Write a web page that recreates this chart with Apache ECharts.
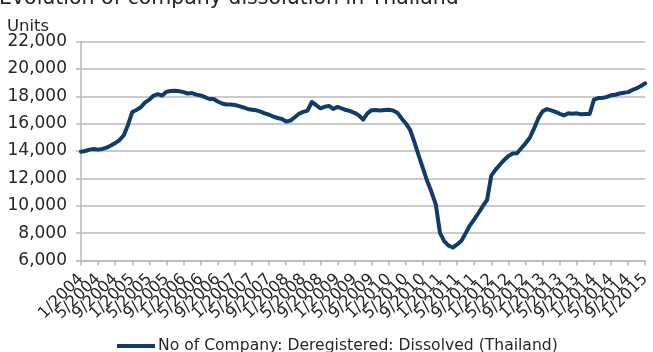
<!DOCTYPE html>
<html>
<head>
<meta charset="utf-8">
<script src="https://cdn.jsdelivr.net/npm/echarts@6/dist/echarts.min.js"></script>
<style>
  html, body { margin: 0; padding: 0; background: #fff; }
  #chart { width: 653px; height: 352px; }
</style>
</head>
<body>
<div id="chart"></div>
<script>
// Monthly series, January 2004 through January 2015
const startYear = 2004;
const monthCount = 133;
const categories = [];
for (let i = 0; i < monthCount; i++) {
  const y = startYear + Math.floor(i / 12);
  const m = (i % 12) + 1;
  categories.push(m + '/' + y);
}
// A tick and label every fourth month (1/, 5/, 9/)
const labelEvery = 4;

// Dissolved (deregistered) companies, units
const dissolved = [
  13950, 14000, 14100, 14150, 14100, 14150, 14250, 14400, 14580, 14800, 15150, 15900,
  16850, 17000, 17200, 17550, 17750, 18050, 18150, 18050, 18330, 18380, 18400, 18360,
  18300, 18200, 18230, 18120, 18060, 17930, 17800, 17800, 17620, 17470, 17400, 17390,
  17360, 17280, 17180, 17070, 17020, 16970, 16880, 16750, 16650, 16510, 16410, 16340,
  16150, 16220, 16470, 16720, 16860, 16950, 17580, 17360, 17120, 17230, 17300, 17070,
  17220, 17120, 16990, 16920, 16790, 16600, 16300, 16750, 16980, 17000, 16960, 17000,
  17020, 16960, 16800, 16380, 16010, 15550, 14650, 13670, 12730, 11800, 11000, 10100,
  8000, 7400, 7080, 6950, 7170, 7450, 8000, 8570, 9000, 9470, 9970, 10430,
  12220, 12640, 13000, 13350, 13630, 13810, 13840, 14200, 14560, 14970, 15650, 16400,
  16900, 17060, 16970, 16860, 16720, 16600, 16760, 16720, 16750, 16690, 16700, 16700,
  17750, 17870, 17880, 17950, 18070, 18110, 18200, 18250, 18300, 18460, 18580, 18750,
  18950
];

const seriesName = 'No of Company: Deregistered: Dissolved (Thailand)';
const titleText = 'Evolution of company dissolution in Thailand';
const unitText = 'Units';
const yMin = 6000, yMax = 22000, yStep = 2000;

const FONT = 'DejaVu Sans';
const TEXT = '#262626';
const GRID = '#b8b8b8';
const LINE = '#0f3c6a';

// The dense rotated date labels are split over two stacked category axes
// (alternating labels), so each axis keeps all of its own labels.
const labelLayer = (phase) => (index) => index % (labelEvery * 2) === phase;
const dateLabel = {
  rotate: 45,
  margin: 16,
  hideOverlap: false,
  showMinLabel: true,
  showMaxLabel: true,
  fontFamily: FONT,
  fontSize: 16,
  color: TEXT
};

const chart = echarts.init(document.getElementById('chart'), null, { renderer: 'canvas' });
chart.setOption({
  animation: false,
  backgroundColor: '#fff',
  textStyle: { fontFamily: FONT, color: TEXT },
  graphic: [{
    // Heading, running off the top edge of the canvas
    type: 'text',
    x: -1,
    y: -1.5,
    style: {
      text: titleText,
      fontFamily: FONT,
      fontSize: 20.5,
      fill: TEXT,
      align: 'left',
      verticalAlign: 'middle'
    }
  }, {
    type: 'text',
    left: 7,
    top: 18,
    style: { text: unitText, fontFamily: FONT, fontSize: 16.5, fill: TEXT }
  }],
  legend: {
    data: [seriesName],
    left: 117,
    top: 338,
    padding: 0,
    icon: 'rect',
    itemWidth: 38,
    itemHeight: 4,
    itemGap: 10,
    textStyle: { fontFamily: FONT, fontSize: 15.6, color: TEXT, padding: [0, 0, 0, -2] }
  },
  grid: { left: 81, right: 0, top: 41.5, bottom: 91.5, containLabel: false },
  xAxis: [{
    type: 'category',
    data: categories,
    position: 'bottom',
    boundaryGap: false,
    axisLine: { lineStyle: { color: GRID, width: 1.5 } },
    axisTick: { interval: (i) => i % labelEvery === 0, length: 5, lineStyle: { color: GRID, width: 1.5 } },
    axisLabel: Object.assign({ interval: labelLayer(0) }, dateLabel),
    splitLine: { show: false }
  }, {
    type: 'category',
    data: categories,
    position: 'bottom',
    offset: 0,
    boundaryGap: false,
    axisLine: { show: false },
    axisTick: { show: false },
    axisLabel: Object.assign({ interval: labelLayer(labelEvery) }, dateLabel),
    splitLine: { show: false }
  }],
  yAxis: {
    type: 'value',
    min: yMin,
    max: yMax,
    interval: yStep,
    axisLine: { show: true, lineStyle: { color: GRID, width: 1.5 } },
    axisTick: { show: true, length: 5, lineStyle: { color: GRID, width: 1.5 } },
    axisLabel: {
      margin: 14,
      fontFamily: FONT,
      fontSize: 17,
      color: TEXT,
      formatter: v => v.toLocaleString('en-US')
    },
    splitLine: { lineStyle: { color: GRID, width: 1.5 } }
  },
  series: [{
    name: seriesName,
    type: 'line',
    xAxisIndex: 0,
    data: dissolved,
    showSymbol: false,
    symbol: 'none',
    lineStyle: { color: LINE, width: 4, join: 'round', cap: 'round' },
    itemStyle: { color: LINE }
  }]
});
</script>
</body>
</html>
